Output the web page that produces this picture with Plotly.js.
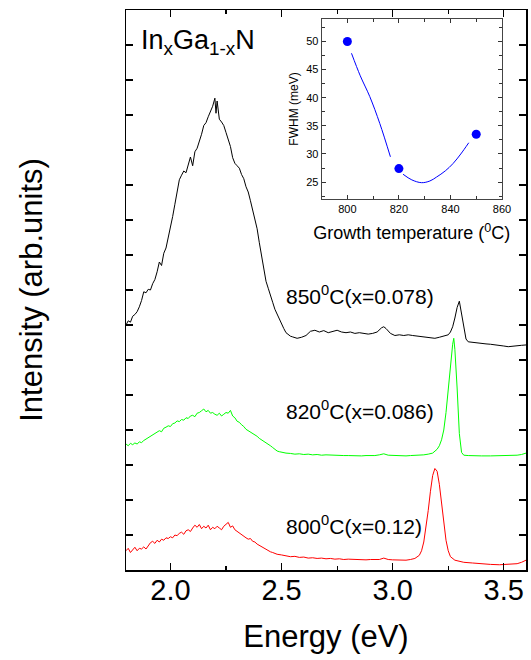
<!DOCTYPE html>
<html>
<head>
<meta charset="utf-8">
<script src="https://cdn.plot.ly/plotly-3.0.1.min.js"></script>
<style>html,body{margin:0;padding:0;background:#fff;}#chart{width:531px;height:660px;}</style>
</head>
<body>
<div id="chart"></div>
<script>
// ---- Spectrum 850 °C (x=0.078), black ----
const e850 = [1.80,1.81,1.82,1.83,1.84,1.85,1.86,1.87,1.88,1.89,1.90,1.91,1.92,1.93,1.94,1.95,1.96,1.97,1.98,1.99,
  2.00,2.01,2.02,2.03,2.04,2.05,2.06,2.07,2.08,2.09,2.10,2.11,2.12,2.13,2.14,2.15,2.16,2.17,2.18,2.19,
  2.20,2.205,2.21,2.22,2.23,2.24,2.25,2.26,2.27,2.28,2.29,2.30,2.31,2.32,2.33,2.34,2.35,2.36,2.37,2.38,2.39,
  2.40,2.41,2.42,2.43,2.44,2.45,2.46,2.47,2.48,2.49,2.50,2.51,2.52,2.53,2.54,2.55,
  2.57,2.59,2.61,2.63,2.65,2.67,2.69,2.71,2.73,2.75,2.77,2.79,2.81,2.83,2.85,2.87,2.89,2.91,2.93,2.95,2.96,2.97,2.99,
  3.01,3.03,3.05,3.07,3.09,3.11,3.13,3.15,3.17,3.19,3.21,3.23,3.25,3.26,3.27,3.28,3.29,3.30,3.31,3.32,3.33,3.34,3.36,3.38,
  3.40,3.42,3.44,3.46,3.48,3.50,3.52,3.54,3.56,3.58,3.60];
const i850 = [7.00,7.12,7.08,7.25,7.30,7.38,7.52,7.70,7.95,7.92,8.02,8.00,8.18,8.30,8.52,8.80,8.70,9.05,9.20,9.48,
  9.75,10.10,10.45,10.85,11.15,11.28,11.40,11.35,11.58,11.80,11.55,11.95,12.05,12.22,12.45,12.70,12.78,12.95,13.08,13.25,
  13.48,13.05,13.40,12.88,12.80,12.70,12.50,12.28,12.10,11.78,11.62,11.55,11.48,11.30,11.18,10.95,10.80,10.55,10.30,10.00,9.75,
  9.35,9.00,8.55,8.25,8.05,7.88,7.65,7.45,7.30,7.15,7.05,6.90,6.78,6.72,6.68,6.66,
  6.62,6.65,6.70,6.82,6.85,6.80,6.84,6.78,6.82,6.85,6.80,6.78,6.80,6.76,6.78,6.75,6.74,6.76,6.80,6.92,6.95,6.90,6.76,
  6.70,6.72,6.70,6.72,6.70,6.68,6.66,6.66,6.64,6.62,6.65,6.68,6.72,6.80,6.95,7.20,7.50,7.68,7.30,6.85,6.60,6.52,6.50,6.48,
  6.47,6.46,6.45,6.44,6.42,6.40,6.38,6.40,6.41,6.42,6.43];

// ---- Spectrum 820 °C (x=0.086), green ----
const e820 = [1.80,1.81,1.82,1.83,1.84,1.85,1.86,1.87,1.88,1.89,1.90,1.91,1.92,1.93,1.94,1.95,1.96,1.97,1.98,1.99,
  2.00,2.01,2.02,2.03,2.04,2.05,2.06,2.07,2.08,2.09,2.10,2.11,2.12,2.13,2.14,2.15,2.16,2.17,2.18,2.19,
  2.20,2.21,2.22,2.23,2.24,2.25,2.26,2.27,2.28,2.29,2.30,2.31,2.32,2.33,2.34,2.35,2.36,2.37,2.38,2.39,
  2.40,2.41,2.42,2.43,2.44,2.45,2.46,2.47,2.48,2.49,2.50,2.52,2.54,2.56,2.58,2.60,2.62,2.64,2.66,2.68,
  2.70,2.72,2.74,2.76,2.78,2.80,2.82,2.84,2.86,2.88,2.90,2.92,2.94,2.96,2.98,3.00,3.02,3.04,3.06,3.08,
  3.10,3.12,3.14,3.16,3.18,3.20,3.21,3.22,3.23,3.24,3.25,3.26,3.27,3.275,3.28,3.29,3.30,3.31,3.32,3.34,3.36,
  3.40,3.44,3.48,3.52,3.56,3.58,3.60];
const i820 = [3.60,3.55,3.62,3.58,3.63,3.60,3.66,3.64,3.70,3.74,3.78,3.82,3.86,3.90,3.92,3.98,3.95,4.05,4.08,4.12,
  4.10,4.18,4.20,4.26,4.24,4.30,4.28,4.35,4.33,4.40,4.42,4.38,4.48,4.50,4.55,4.60,4.52,4.56,4.48,4.50,
  4.45,4.42,4.48,4.40,4.45,4.50,4.48,4.56,4.40,4.35,4.25,4.22,4.15,4.10,4.02,3.98,3.95,3.90,3.85,3.82,
  3.76,3.72,3.68,3.65,3.60,3.55,3.50,3.45,3.40,3.38,3.36,3.34,3.33,3.31,3.32,3.30,3.31,3.29,3.30,3.28,
  3.29,3.28,3.27,3.28,3.27,3.27,3.26,3.27,3.26,3.27,3.26,3.27,3.29,3.32,3.28,3.27,3.26,3.26,3.26,3.27,
  3.27,3.28,3.29,3.31,3.34,3.45,3.55,3.72,4.00,4.50,5.20,5.90,6.45,6.62,6.30,5.20,3.90,3.36,3.28,3.27,3.26,
  3.26,3.26,3.26,3.27,3.28,3.30,3.34];

// ---- Spectrum 800 °C (x=0.12), red ----
const e800 = [1.80,1.81,1.82,1.83,1.84,1.85,1.86,1.87,1.88,1.89,1.90,1.91,1.92,1.93,1.94,1.95,1.96,1.97,1.98,1.99,
  2.00,2.01,2.02,2.03,2.04,2.05,2.06,2.07,2.08,2.09,2.10,2.11,2.12,2.13,2.14,2.15,2.16,2.17,2.18,2.19,
  2.20,2.21,2.22,2.23,2.24,2.25,2.26,2.27,2.28,2.29,2.30,2.31,2.32,2.33,2.34,2.35,2.36,2.37,2.38,2.39,
  2.40,2.41,2.42,2.43,2.44,2.45,2.46,2.47,2.48,2.50,2.52,2.54,2.56,2.58,2.60,2.62,2.64,2.66,2.68,
  2.70,2.72,2.74,2.76,2.78,2.80,2.82,2.84,2.86,2.88,2.90,2.92,2.94,2.96,2.98,3.00,3.02,3.04,3.06,3.08,
  3.10,3.12,3.13,3.14,3.15,3.16,3.17,3.18,3.19,3.20,3.21,3.22,3.23,3.24,3.25,3.26,3.28,3.30,3.32,3.36,
  3.40,3.44,3.48,3.52,3.56,3.58,3.60];
const i800 = [0.55,0.62,0.50,0.58,0.65,0.55,0.62,0.60,0.66,0.60,0.70,0.78,0.82,0.76,0.85,0.80,0.88,0.85,0.92,0.90,
  0.95,0.92,1.00,0.98,1.05,1.08,1.02,1.12,1.15,1.10,1.20,1.28,1.22,1.30,1.18,1.25,1.20,1.28,1.15,1.22,
  1.18,1.25,1.20,1.15,1.25,1.30,1.36,1.22,1.26,1.15,1.10,1.05,1.00,0.95,0.92,0.88,0.90,0.82,0.80,0.74,
  0.70,0.68,0.62,0.60,0.55,0.52,0.50,0.47,0.45,0.43,0.40,0.38,0.39,0.36,0.37,0.34,0.35,0.33,0.34,
  0.32,0.33,0.31,0.32,0.30,0.31,0.30,0.31,0.30,0.29,0.30,0.29,0.30,0.34,0.30,0.29,0.28,0.29,0.28,0.30,
  0.33,0.42,0.55,0.80,1.20,1.70,2.25,2.70,2.90,2.82,2.45,1.90,1.30,0.85,0.55,0.38,0.28,0.24,0.22,0.20,
  0.17,0.16,0.15,0.16,0.18,0.22,0.28];

// ---- Inset: FWHM vs growth temperature ----
const growthT = [800, 820, 850];
const fwhm = [50, 27.4, 33.5];
const fitT = [801.6, 805, 808.7, 812.6, 816.7, null, 821.6, 825, 828.8, 832, 834.6, 838, 841, 844, 847.1];
const fitW = [47.9, 43.9, 40.2, 35.4, 29.5, null, 26.4, 25.4, 24.9, 25.2, 25.9, 27.0, 28.3, 30.0, 32.0];

const labels = ["850<sup>0</sup>C(x=0.078)", "820<sup>0</sup>C(x=0.086)", "800<sup>0</sup>C(x=0.12)"];
const labelY = [7.85, 4.57, 1.3];
const labelX = [2.51, 2.51, 2.51];

const FONT = "Liberation Sans, Arial, sans-serif";

const traces = [
  {x: e850, y: i850, type: "scatter", mode: "lines", line: {color: "#000000", width: 1}, xaxis: "x", yaxis: "y"},
  {x: e820, y: i820, type: "scatter", mode: "lines", line: {color: "#00ff00", width: 1}, xaxis: "x", yaxis: "y"},
  {x: e800, y: i800, type: "scatter", mode: "lines", line: {color: "#ff0000", width: 1}, xaxis: "x", yaxis: "y"},
  {x: fitT, y: fitW, type: "scatter", mode: "lines", line: {color: "#0000ff", width: 1, shape: "spline"}, connectgaps: false, xaxis: "x2", yaxis: "y2"},
  {x: growthT, y: fwhm, type: "scatter", mode: "markers", marker: {color: "#0000ff", size: 9}, xaxis: "x2", yaxis: "y2"}
];

const annotations = labels.map((t, k) => ({
  x: labelX[k], y: labelY[k], xref: "x", yref: "y", text: t, showarrow: false,
  xanchor: "left", yanchor: "middle", font: {family: FONT, size: 21, color: "#000"}
}));
annotations.push({
  x: 1.86, y: 15.1, xref: "x", yref: "y", text: "In<sub>x</sub>Ga<sub>1-x</sub>N", showarrow: false,
  xanchor: "left", yanchor: "middle", font: {family: FONT, size: 27, color: "#000"}
});

const layout = {
  width: 531, height: 660,
  margin: {l: 126, r: 5, t: 10, b: 90, pad: 0},
  paper_bgcolor: "#ffffff", plot_bgcolor: "#ffffff",
  showlegend: false,
  font: {family: FONT, color: "#000"},
  xaxis: {
    range: [1.8, 3.6], domain: [0, 1], anchor: "y",
    tickvals: [2.0, 2.5, 3.0, 3.5], ticktext: ["2.0", "2.5", "3.0", "3.5"],
    ticks: "inside", ticklen: 7, tickwidth: 1.2, tickcolor: "#000",
    minor: {tickvals: [2.25, 2.75, 3.25], ticks: "inside", ticklen: 4, tickcolor: "#000", tickwidth: 1.2},
    showline: true, linecolor: "#000", linewidth: 1.5, mirror: "allticks",
    showgrid: false, zeroline: false,
    ticklabelstandoff: -6,
    tickfont: {family: FONT, size: 29},
    title: {text: "Energy (eV)", font: {family: FONT, size: 31}, standoff: 20}
  },
  yaxis: {
    range: [0, 16], domain: [0, 1], anchor: "x",
    dtick: 1, tick0: 0, showticklabels: false,
    ticks: "inside", ticklen: 7, tickwidth: 1.2, tickcolor: "#000",
    showline: true, linecolor: "#000", linewidth: 1.5, mirror: "allticks",
    showgrid: false, zeroline: false,
    title: {text: "Intensity (arb.units)", font: {family: FONT, size: 31}, standoff: 72}
  },
  xaxis2: {
    range: [790, 860], domain: [0.489, 0.94], anchor: "y2",
    dtick: 20, tick0: 800,
    ticks: "inside", ticklen: 4, tickwidth: 1, tickcolor: "#333",
    minor: {dtick: 10, ticks: "inside", ticklen: 3, tickcolor: "#333"},
    showline: true, linecolor: "#444", linewidth: 1, mirror: "allticks",
    showgrid: false, zeroline: false,
    tickfont: {family: FONT, size: 11},
    title: {text: "Growth temperature (<sup>0</sup>C)", font: {family: FONT, size: 18}, standoff: 12}
  },
  yaxis2: {
    range: [22, 54], domain: [0.6625, 0.984], anchor: "x2",
    dtick: 5, tick0: 25,
    ticks: "inside", ticklen: 4, tickwidth: 1, tickcolor: "#333",
    minor: {dtick: 2.5, ticks: "inside", ticklen: 3, tickcolor: "#333"},
    showline: true, linecolor: "#444", linewidth: 1, mirror: "allticks",
    showgrid: false, zeroline: false,
    tickfont: {family: FONT, size: 11},
    title: {text: "FWHM (meV)", font: {family: FONT, size: 12}, standoff: 4}
  },
  annotations: annotations
};

Plotly.newPlot("chart", traces, layout, {displayModeBar: false, staticPlot: true});
</script>
</body>
</html>
